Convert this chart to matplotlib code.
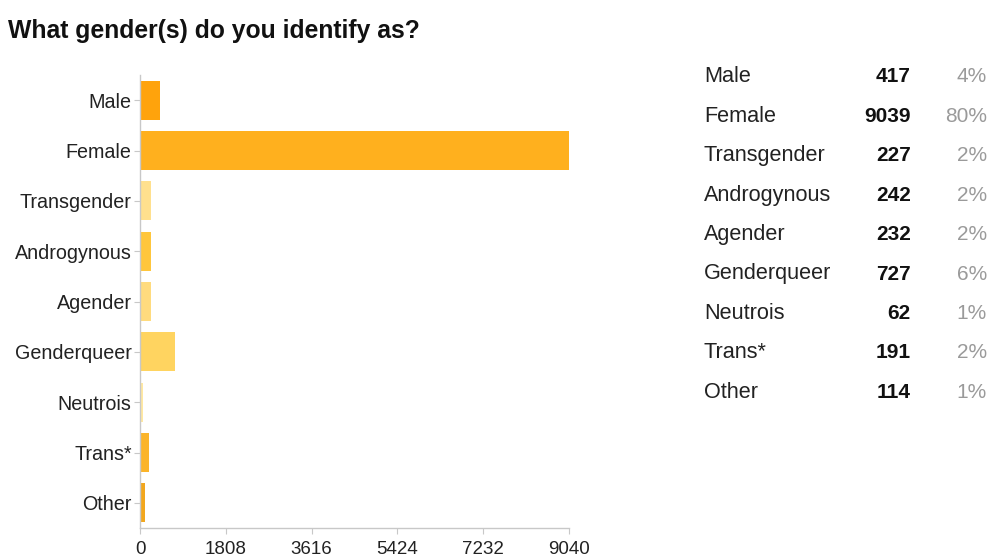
import matplotlib
matplotlib.use("Agg")
import matplotlib.pyplot as plt

plt.rcParams['font.family'] = ['Liberation Sans', 'DejaVu Sans']

# Survey answers and counts
categories = ["Male", "Female", "Transgender", "Androgynous", "Agender",
              "Genderqueer", "Neutrois", "Trans*", "Other"]
counts = [417, 9039, 227, 242, 232, 727, 62, 191, 114]
percents = [4, 80, 2, 2, 2, 6, 1, 2, 1]
bar_colors = ["#FFA30C", "#FFB01E", "#FFE08E", "#FFC63C", "#FFDB7E",
              "#FFD460", "#FFE8A2", "#FBB42A", "#F2A71E"]
x_ticks = [0, 1808, 3616, 5424, 7232, 9040]

W, H = 990, 557
fig = plt.figure(figsize=(W / 100, H / 100), dpi=100)
fig.patch.set_facecolor("white")

ax = fig.add_axes([140 / W, 1 - 528 / H, (569 - 140) / W, (528 - 75) / H])
ypos = list(range(len(categories)))
ax.barh(ypos, counts, height=0.78, color=bar_colors, edgecolor="none")
ax.set_ylim(len(categories) - 0.5, -0.5)
ax.set_xlim(x_ticks[0], x_ticks[-1])
ax.set_yticks(ypos)
ax.set_yticklabels(categories, fontsize=14.2, color="#222222")
ax.set_xticks(x_ticks)
ax.set_xticklabels([str(t) for t in x_ticks], fontsize=13.5, color="#222222")
for side in ("top", "right"):
    ax.spines[side].set_visible(False)
for side in ("left", "bottom"):
    ax.spines[side].set_color("#c8c8c8")
    ax.spines[side].set_linewidth(1.0)
ax.tick_params(axis="y", length=4, color="#c8c8c8", pad=2)
ax.tick_params(axis="x", length=4, color="#c8c8c8", pad=5)

# Title
fig.text(8 / W, 1 - 31 / H, "What gender(s) do you identify as?",
         fontsize=17.8, fontweight="bold", color="#111111", va="center", ha="left")

# Summary table on the right
for i, (cat, n, p) in enumerate(zip(categories, counts, percents)):
    y = 1 - (77 + i * 39.4) / H
    fig.text(704 / W, y, cat, fontsize=15.6, color="#222222", va="center", ha="left")
    fig.text(911 / W, y, str(n), fontsize=15, fontweight="bold", color="#111111",
             va="center", ha="right")
    fig.text(987 / W, y, f"{p}%", fontsize=15, color="#9a9a9a", va="center", ha="right")

fig.savefig("out.png", dpi=100, facecolor="white")
